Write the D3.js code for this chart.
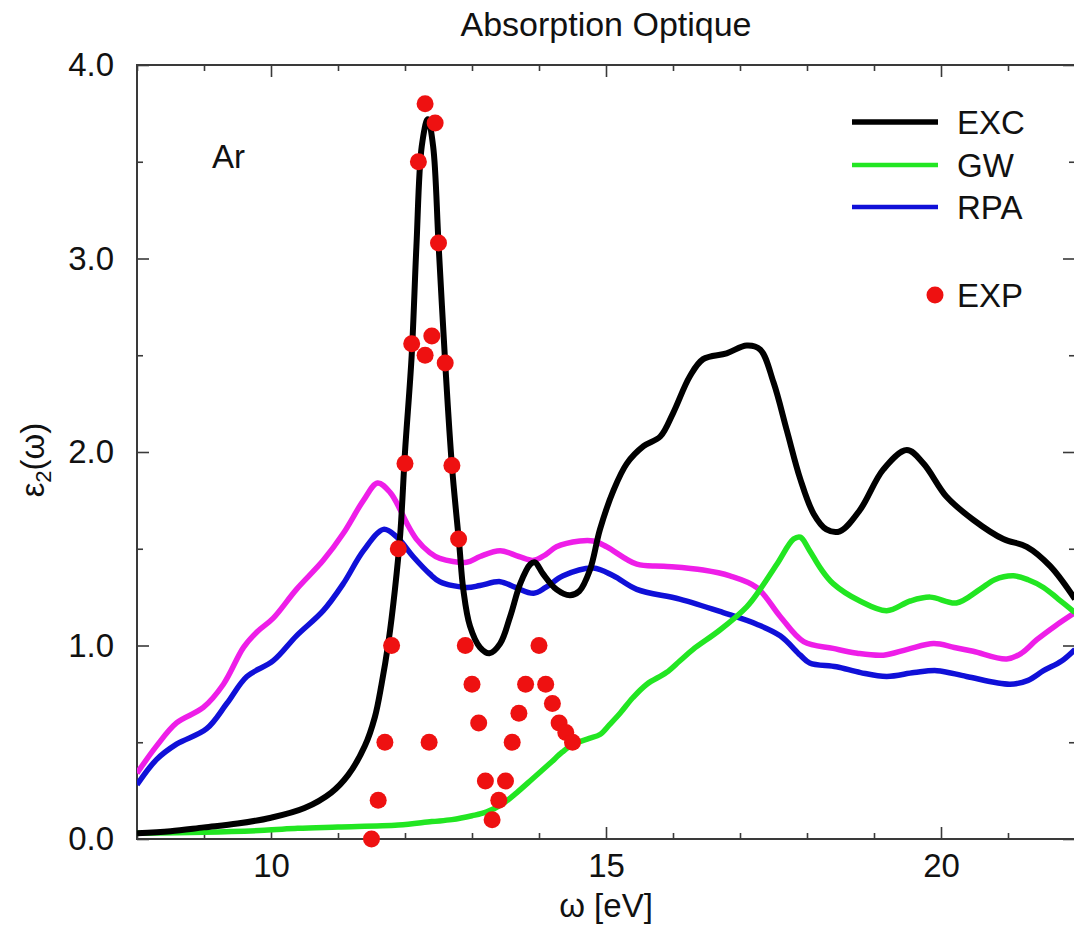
<!DOCTYPE html>
<html>
<head>
<meta charset="utf-8">
<script src="https://cdn.jsdelivr.net/npm/d3@7"></script>
<style>
body { margin: 0; background: #fff; }
text { font-family: "Liberation Sans", Arial, Helvetica, sans-serif; fill: #111; }
</style>
</head>
<body>
<svg width="1074" height="937"></svg>
<script>
// EXC (black)
var excX = [8.0, 8.5, 9.0, 9.5, 10.0, 10.5, 10.9, 11.15, 11.4, 11.55, 11.65, 11.75, 11.85, 11.93, 12.0, 12.1, 12.17, 12.25, 12.34, 12.42, 12.5, 12.6, 12.7, 12.81, 12.87, 12.97, 13.12, 13.26, 13.42, 13.57, 13.72, 13.87, 13.94, 14.06, 14.26, 14.46, 14.6, 14.76, 14.91, 15.11, 15.31, 15.56, 15.81, 16.0, 16.25, 16.45, 16.8, 17.1, 17.3, 17.5, 17.7, 17.9, 18.1, 18.29, 18.49, 18.79, 19.14, 19.49, 19.74, 20.08, 20.48, 20.93, 21.28, 21.63, 22.0];
var excY = [0.03, 0.04, 0.06, 0.08, 0.11, 0.16, 0.24, 0.33, 0.48, 0.63, 0.80, 1.01, 1.29, 1.58, 2.0, 2.5, 3.06, 3.58, 3.72, 3.58, 3.08, 2.46, 1.93, 1.52, 1.29, 1.10, 0.99, 0.96, 1.01, 1.15, 1.32, 1.42, 1.43, 1.37, 1.29, 1.26, 1.28, 1.39, 1.60, 1.80, 1.94, 2.03, 2.08, 2.20, 2.39, 2.48, 2.51, 2.55, 2.53, 2.36, 2.11, 1.86, 1.68, 1.60, 1.59, 1.70, 1.91, 2.01, 1.94, 1.77, 1.65, 1.55, 1.51, 1.41, 1.24];

// GW (green)
var gwX = [8.0, 9.0, 9.9, 10.4, 11.0, 11.9, 12.4, 12.7, 13.0, 13.22, 13.45, 13.67, 13.9, 14.16, 14.35, 14.51, 14.75, 14.91, 15.05, 15.21, 15.4, 15.61, 15.9, 16.1, 16.3, 16.7, 17.1, 17.3, 17.55, 17.8, 17.9, 18.04, 18.2, 18.39, 18.79, 19.19, 19.54, 19.84, 20.23, 20.58, 20.8, 21.08, 21.3, 21.53, 21.75, 22.0];
var gwY = [0.03, 0.035, 0.045, 0.055, 0.062, 0.072, 0.09, 0.10, 0.12, 0.14, 0.18, 0.24, 0.31, 0.39, 0.45, 0.49, 0.52, 0.54, 0.59, 0.65, 0.73, 0.80, 0.86, 0.92, 0.98, 1.08, 1.20, 1.29, 1.42, 1.55, 1.56, 1.49, 1.40, 1.32, 1.23, 1.18, 1.23, 1.25, 1.22, 1.29, 1.34, 1.36, 1.34, 1.30, 1.24, 1.17];

// RPA (blue)
var rpaX = [8.0, 8.29, 8.59, 9.04, 9.34, 9.64, 10.03, 10.38, 10.78, 11.08, 11.38, 11.68, 11.88, 12.12, 12.37, 12.52, 12.92, 13.12, 13.42, 13.65, 13.92, 14.1, 14.36, 14.81, 15.11, 15.46, 16.1, 16.75, 17.25, 17.6, 17.9, 18.04, 18.44, 18.8, 19.19, 19.6, 19.94, 20.38, 21.03, 21.3, 21.53, 21.8, 22.0];
var rpaY = [0.28, 0.41, 0.49, 0.57, 0.70, 0.84, 0.92, 1.05, 1.18, 1.32, 1.49, 1.60, 1.56, 1.46, 1.37, 1.33, 1.30, 1.31, 1.33, 1.30, 1.27, 1.30, 1.36, 1.40, 1.36, 1.29, 1.24, 1.17, 1.11, 1.05, 0.95, 0.91, 0.89, 0.86, 0.84, 0.86, 0.87, 0.84, 0.80, 0.82, 0.87, 0.92, 0.98];

// 4th curve (magenta, not in legend)
var magX = [8.0, 8.29, 8.59, 8.99, 9.29, 9.59, 9.79, 10.03, 10.38, 10.78, 11.08, 11.38, 11.59, 11.78, 11.93, 12.03, 12.17, 12.37, 12.52, 12.92, 13.12, 13.42, 13.7, 13.92, 14.1, 14.26, 14.61, 14.81, 15.01, 15.46, 15.86, 16.45, 16.85, 17.25, 17.6, 17.95, 18.39, 18.75, 19.14, 19.5, 19.89, 20.2, 20.48, 20.98, 21.2, 21.43, 21.7, 22.0];
var magY = [0.34, 0.48, 0.60, 0.68, 0.80, 0.99, 1.07, 1.14, 1.29, 1.44, 1.58, 1.75, 1.84, 1.79, 1.70, 1.63, 1.55, 1.48, 1.45, 1.43, 1.46, 1.49, 1.46, 1.44, 1.47, 1.51, 1.54, 1.54, 1.51, 1.42, 1.41, 1.39, 1.36, 1.30, 1.15, 1.02, 0.985, 0.96, 0.95, 0.98, 1.01, 0.99, 0.97, 0.93, 0.96, 1.03, 1.10, 1.17];

// EXP points (red)
var expX = [11.5, 11.6, 11.7, 11.8, 11.9, 12.0, 12.1, 12.2, 12.3, 12.3, 12.36, 12.4, 12.45, 12.5, 12.6, 12.7, 12.8, 12.9, 13.0, 13.1, 13.2, 13.3, 13.4, 13.5, 13.6, 13.7, 13.8, 14.0, 14.1, 14.2, 14.3, 14.4, 14.5];
var expY = [0.0, 0.2, 0.5, 1.0, 1.5, 1.94, 2.56, 3.5, 3.8, 2.5, 0.5, 2.6, 3.7, 3.08, 2.46, 1.93, 1.55, 1.0, 0.8, 0.6, 0.3, 0.1, 0.2, 0.3, 0.5, 0.65, 0.8, 1.0, 0.8, 0.7, 0.6, 0.55, 0.5];

var xMajor = [10, 15, 20],
    xMinor = d3.range(8, 23).filter(function (v) { return v % 5 != 0; }),
    yMajor = [0, 1, 2, 3, 4],
    yMinor = [0.5, 1.5, 2.5, 3.5];

var svg = d3.select("svg"),
    pLeft = 137, pRight = 1075, pTop = 65, pBottom = 839;

var x = d3.scaleLinear().domain([8, 22]).range([pLeft, pRight]);
var y = d3.scaleLinear().domain([0, 4]).range([pBottom, pTop]);

var axisColor = "#3a3a3a",
    fontSize = "33px";

// ticks on all four sides, pointing inward
function ticks(axis, transform, cls) {
    var g = svg.append("g").attr("class", cls).attr("transform", transform).call(axis);
    g.select(".domain").remove();
    g.selectAll(".tick line").attr("stroke", axisColor).attr("stroke-width", 1.6);
    g.selectAll(".tick text").style("font-size", fontSize).attr("fill", "#111");
    return g;
}

ticks(d3.axisBottom(x).tickValues(xMajor).tickSize(-12).tickPadding(15).tickFormat(d3.format("d")),
    "translate(0," + pBottom + ")", "x major");
ticks(d3.axisBottom(x).tickValues(xMinor).tickSize(-6).tickFormat(""),
    "translate(0," + pBottom + ")", "x minor");
ticks(d3.axisTop(x).tickValues(xMajor).tickSize(-12).tickFormat(""),
    "translate(0," + pTop + ")", "x2 major");
ticks(d3.axisTop(x).tickValues(xMinor).tickSize(-6).tickFormat(""),
    "translate(0," + pTop + ")", "x2 minor");

ticks(d3.axisLeft(y).tickValues(yMajor).tickSize(-12).tickPadding(23).tickFormat(d3.format(".1f")),
    "translate(" + pLeft + ",0)", "y major");
ticks(d3.axisLeft(y).tickValues(yMinor).tickSize(-6).tickFormat(""),
    "translate(" + pLeft + ",0)", "y minor");
ticks(d3.axisRight(y).tickValues(yMajor).tickSize(-12).tickFormat(""),
    "translate(" + pRight + ",0)", "y2 major");
ticks(d3.axisRight(y).tickValues(yMinor).tickSize(-6).tickFormat(""),
    "translate(" + pRight + ",0)", "y2 minor");

// frame
svg.append("rect")
    .attr("x", pLeft).attr("y", pTop)
    .attr("width", pRight - pLeft).attr("height", pBottom - pTop)
    .attr("fill", "none").attr("stroke", axisColor).attr("stroke-width", 2);

svg.append("clipPath").attr("id", "plot")
    .append("rect").attr("x", pLeft).attr("y", pTop - 20)
    .attr("width", pRight - pLeft).attr("height", pBottom - pTop + 40);

var line = d3.line()
    .x(function (d) { return x(d[0]); })
    .y(function (d) { return y(d[1]); })
    .curve(d3.curveCatmullRom.alpha(0.5));

var curves = [
    {xs: magX, ys: magY, color: "#ee1ee8", w: 5.5},
    {xs: rpaX, ys: rpaY, color: "#1010d8", w: 5.5},
    {xs: gwX, ys: gwY, color: "#22e622", w: 5.5},
    {xs: excX, ys: excY, color: "#000000", w: 6}
];

var plot = svg.append("g").attr("clip-path", "url(#plot)");

plot.selectAll("path.curve")
    .data(curves)
    .enter().append("path")
    .attr("class", "curve")
    .attr("d", function (d) { return line(d3.zip(d.xs, d.ys)); })
    .attr("fill", "none")
    .attr("stroke", function (d) { return d.color; })
    .attr("stroke-width", function (d) { return d.w; })
    .attr("stroke-linejoin", "round");

svg.append("g").selectAll("circle")
    .data(d3.zip(expX, expY))
    .enter().append("circle")
    .attr("cx", function (d) { return x(d[0]); })
    .attr("cy", function (d) { return y(d[1]); })
    .attr("r", 8.5)
    .attr("fill", "#ee1111");

// title and axis labels
svg.append("text")
    .attr("x", (pLeft + pRight) / 2).attr("y", 36)
    .attr("text-anchor", "middle")
    .style("font-size", "34px")
    .text("Absorption Optique");

svg.append("text")
    .attr("x", (pLeft + pRight) / 2).attr("y", 917)
    .attr("text-anchor", "middle")
    .style("font-size", fontSize)
    .text("ω [eV]");

var ylab = svg.append("text")
    .attr("transform", "translate(44,460) rotate(-90)")
    .attr("text-anchor", "middle")
    .style("font-size", fontSize);
ylab.append("tspan").text("ε");
ylab.append("tspan").attr("dy", 7).style("font-size", "22px").text("2");
ylab.append("tspan").attr("dy", -7).text("(ω)");

svg.append("text")
    .attr("x", 212).attr("y", 168)
    .style("font-size", fontSize)
    .text("Ar");

// legend
var legend = [
    {name: "EXC", color: "#000000", w: 5.5, y: 122},
    {name: "GW", color: "#22e622", w: 4.5, y: 165},
    {name: "RPA", color: "#1010d8", w: 4.5, y: 207}
];

var lg = svg.append("g");
lg.selectAll("line")
    .data(legend)
    .enter().append("line")
    .attr("x1", 852).attr("x2", 938)
    .attr("y1", function (d) { return d.y; })
    .attr("y2", function (d) { return d.y; })
    .attr("stroke", function (d) { return d.color; })
    .attr("stroke-width", function (d) { return d.w; });
lg.selectAll("text")
    .data(legend)
    .enter().append("text")
    .attr("x", 957)
    .attr("y", function (d) { return d.y + 12; })
    .style("font-size", fontSize)
    .text(function (d) { return d.name; });

lg.append("circle").attr("cx", 935).attr("cy", 295).attr("r", 8.5).attr("fill", "#ee1111");
lg.append("text").attr("x", 957).attr("y", 307).style("font-size", fontSize).text("EXP");
</script>
</body>
</html>
